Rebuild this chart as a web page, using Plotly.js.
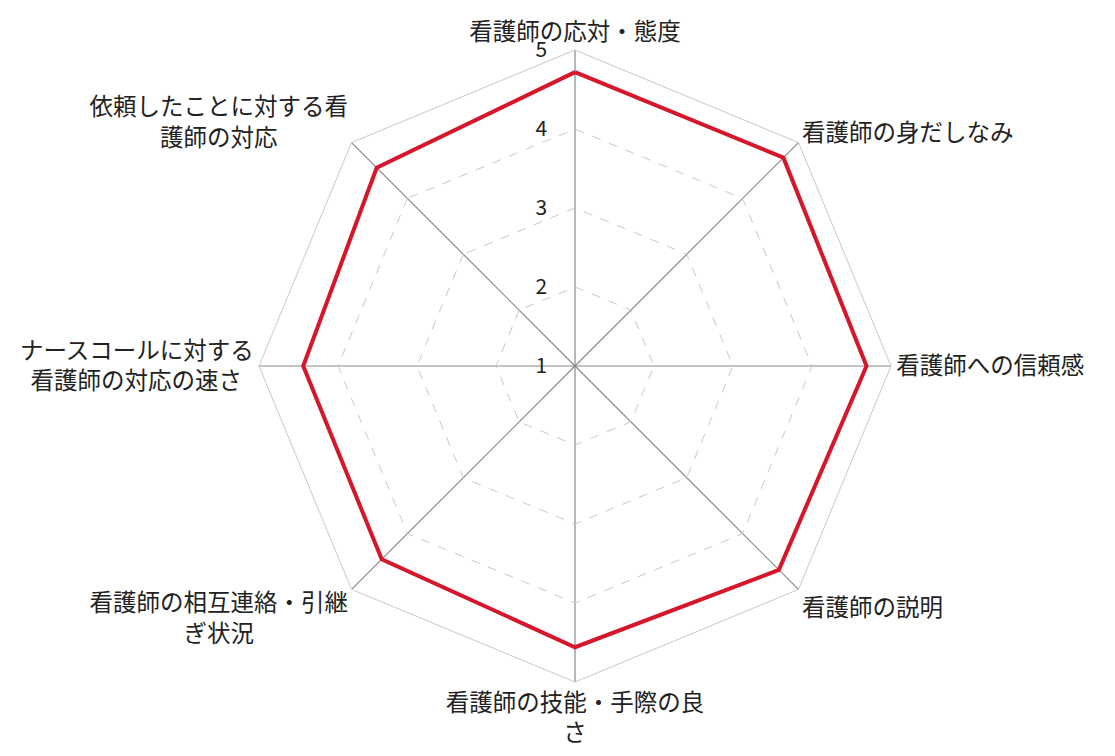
<!DOCTYPE html>
<html><head><meta charset="utf-8">
<script src="https://cdn.plot.ly/plotly-3.0.1.min.js"></script>
<style>html,body{margin:0;padding:0;background:#fff}#c{width:1115px;height:756px}</style>
</head><body><div id="c"></div>
<script>
const categories = ["看護師の応対・態度","看護師の身だしなみ","看護師への信頼感","看護師の説明","看護師の技能・手際の良さ","看護師の相互連絡・引継ぎ状況","ナースコールに対する看護師の対応の速さ","依頼したことに対する看護師の対応"];
const tickLabels = ["看護師の応対・態度","看護師の身だしなみ","看護師への信頼感","看護師の説明","看護師の技能・手際の良<br>さ","看護師の相互連絡・引継<br>ぎ状況\u3000\u3000\u3000\u3000","ナースコールに対する<br>看護師の対応の速さ\u2002","依頼したことに対する看<br>護師の対応\u3000\u3000\u3000"];
const values = [4.72, 4.73, 4.69, 4.65, 4.56, 4.46, 4.44, 4.55];
const radialTicks = [1,2,3,4,5];

const font = "'Noto Sans CJK JP','Noto Sans',sans-serif";
const trace = {
  type: 'scatterpolar',
  r: values.concat([values[0]]),
  theta: categories.concat([categories[0]]),
  mode: 'lines',
  line: {color: '#d5162b', width: 4},
  hoverinfo: 'skip'
};
const cx = 575, cy = 366, R = 316, W = 1115, H = 756;
const layout = {
  width: W, height: H,
  margin: {l:0, r:0, t:0, b:0},
  paper_bgcolor: '#fff',
  showlegend: false,
  font: {family: font, color: '#222', size: 20},
  polar: {
    domain: {x: [(cx-R)/W, (cx+R)/W], y: [(H-cy-R)/H, (H-cy+R)/H]},
    gridshape: 'linear',
    bgcolor: '#fff',
    radialaxis: {
      range: [1,5], tickvals: radialTicks, ticktext: radialTicks.map(String),
      angle: 90, side: 'counterclockwise', tickangle: 90,
      showline: false, ticks: 'outside', ticklen: 20, tickcolor: 'rgba(0,0,0,0)',
      gridcolor: '#c8c8c8', griddash: 'dash', gridwidth: 1,
      tickfont: {size: 21, color: '#222', family: font}
    },
    angularaxis: {
      type: 'category', categoryarray: categories,
      tickvals: categories, ticktext: tickLabels,
      direction: 'clockwise', rotation: 90,
      showline: true, linecolor: '#c8c8c8', linewidth: 1,
      gridcolor: '#8a8a8a', gridwidth: 1.2, ticks: '',
      tickfont: {size: 23.5, color: '#222', family: font}
    }
  }
};
Plotly.newPlot('c', [trace], layout, {displayModeBar: false, staticPlot: true});
</script></body></html>
